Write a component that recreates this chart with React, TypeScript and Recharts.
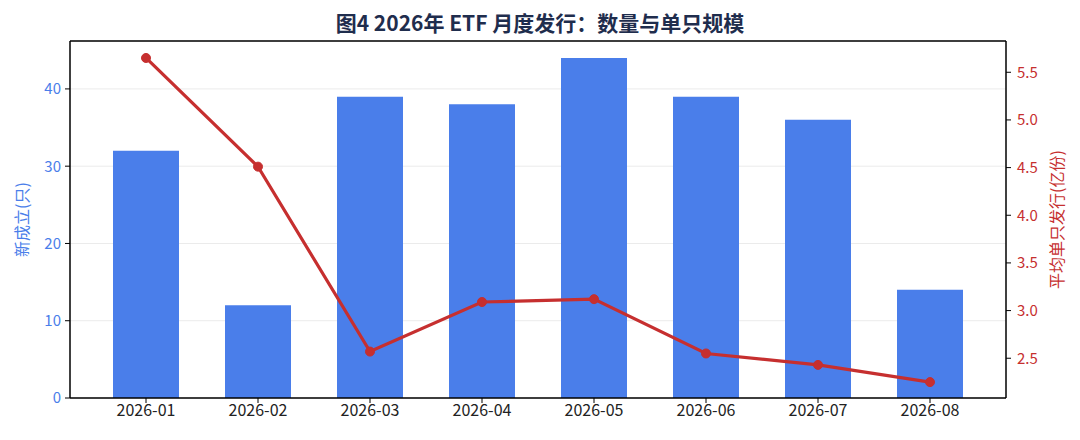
import React from 'react';
import { ComposedChart, Bar, Line, XAxis, YAxis, CartesianGrid, ReferenceLine } from 'recharts';

const months = ['2026-01', '2026-02', '2026-03', '2026-04', '2026-05', '2026-06', '2026-07', '2026-08'];
const newFunds = [32, 12, 39, 38, 44, 39, 36, 14];
const avgIssue = [5.65, 4.51, 2.57, 3.09, 3.12, 2.55, 2.43, 2.25];
const leftTicks = [0, 10, 20, 30, 40];
const rightTicks = [2.5, 3.0, 3.5, 4.0, 4.5, 5.0, 5.5];

const data = months.map((m, i) => ({ month: m, count: newFunds[i], avg: avgIssue[i] }));

const FONT = '"Noto Sans CJK SC", "Noto Sans", sans-serif';
const BLUE = '#4a7eea';
const RED = '#c62f2f';
const LEFT_MAX = 46.2;

export default function App() {
  return (
    <div style={{ position: 'absolute', left: 0, top: 0, width: 1080, height: 440, background: '#fff', fontFamily: FONT }}>
      <div style={{ position: 'absolute', left: 0, top: 7, width: 1080, textAlign: 'center', fontSize: 21, fontWeight: 700, color: '#1f2d4d', lineHeight: '30px' }}>
        图4 2026年 ETF 月度发行：数量与单只规模
      </div>
      <ComposedChart width={1080} height={440} data={data} margin={{ top: 41, right: 0, bottom: 0, left: 0 }}>
        <CartesianGrid yAxisId="left" vertical={false} stroke="#ebebeb" strokeWidth={1} />
        <XAxis
          dataKey="month"
          xAxisId="main"
          height={42}
          padding={{ left: 20, right: 20 }}
          axisLine={{ stroke: '#000', strokeWidth: 1.5 }}
          tickLine={{ stroke: '#000' }}
          tickSize={5}
          tick={{ fill: '#222', fontSize: 16, fontFamily: FONT }}
          interval={0}
        />
        <YAxis
          yAxisId="left"
          orientation="left"
          width={70}
          domain={[0, LEFT_MAX]}
          ticks={leftTicks}
          allowDataOverflow
          axisLine={{ stroke: '#000', strokeWidth: 1.5 }}
          tickLine={{ stroke: '#000' }}
          tickSize={5}
          tick={{ fill: BLUE, fontSize: 15, fontFamily: FONT, dx: -2 }}
          label={{ value: '新成立(只)', angle: -90, position: 'insideLeft', offset: 22, fill: BLUE, fontSize: 16, fontFamily: FONT, style: { textAnchor: 'middle' } }}
        />
        <YAxis
          yAxisId="right"
          orientation="right"
          width={74}
          domain={[2.083, 5.828]}
          ticks={rightTicks}
          allowDataOverflow
          tickFormatter={(v: number) => v.toFixed(1)}
          axisLine={{ stroke: '#000', strokeWidth: 1.5 }}
          tickLine={{ stroke: '#000' }}
          tickSize={5}
          tick={{ fill: RED, fontSize: 15, fontFamily: FONT, dx: 4 }}
          label={{ value: '平均单只发行(亿份)', angle: -90, position: 'insideRight', offset: 23, fill: RED, fontSize: 16, fontFamily: FONT, style: { textAnchor: 'middle' } }}
        />
        <Bar xAxisId="main" yAxisId="left" dataKey="count" fill={BLUE} barSize={66} isAnimationActive={false} />
        <Line
          xAxisId="main"
          yAxisId="right"
          dataKey="avg"
          type="linear"
          stroke={RED}
          strokeWidth={3.2}
          dot={{ r: 4.5, fill: RED, stroke: RED, strokeWidth: 1 }}
          activeDot={false}
          isAnimationActive={false}
        />
        <ReferenceLine xAxisId="main" yAxisId="left" y={LEFT_MAX} stroke="#000" strokeWidth={1.5} ifOverflow="visible" />
      </ComposedChart>
    </div>
  );
}
